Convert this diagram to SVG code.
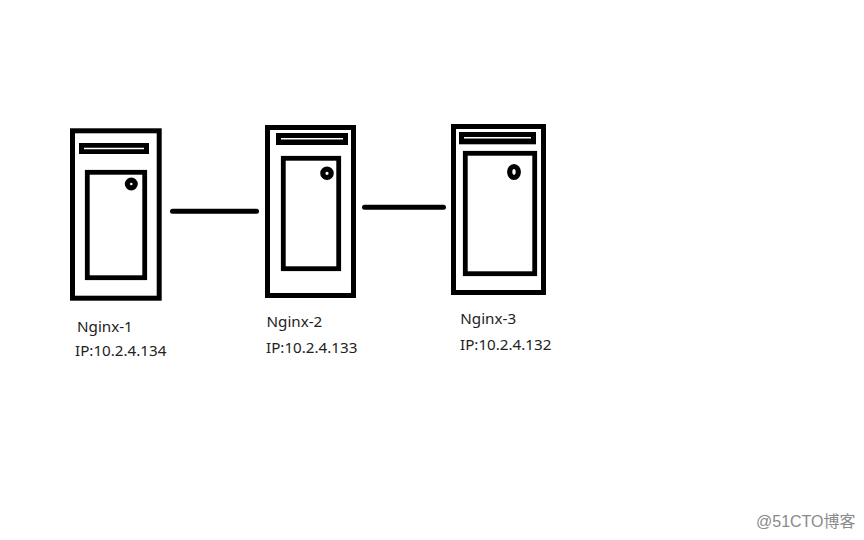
<svg xmlns="http://www.w3.org/2000/svg" width="864" height="540" viewBox="0 0 864 540">
<style>
.o{fill:#fff;stroke:#000;stroke-width:5}
.s{fill:#000}
.w{stroke:#fff;stroke-width:1.4}
.i{fill:#fff;stroke:#000;stroke-width:4.8}
.k{fill:#fff;stroke:#000;stroke-width:5.2}
.c{stroke:#000;stroke-width:5;stroke-linecap:round;fill:none}
text{font-family:"Noto Sans","Open Sans","Liberation Sans",sans-serif;font-size:15.2px;fill:#222}
.m{font-family:"Liberation Sans","Noto Sans CJK SC",sans-serif;font-size:16px;fill:#8a8a8a}
</style>
<rect width="864" height="540" fill="#fff"/>
<g id="connectors">
<line class="c" x1="172.500" y1="211.300" x2="256.500" y2="211.300"/>
<line class="c" x1="364.500" y1="207.300" x2="443.500" y2="207.300"/>
</g>
<g id="nginx-1">
<rect class="o" x="72.500" y="130.800" width="86.700" height="167.400"/>
<rect class="s" x="79" y="143" width="70" height="11"/>
<line class="w" x1="84" y1="148.500" x2="144" y2="148.500"/>
<rect class="i" x="87.300" y="172.300" width="57.400" height="105.400"/>
<circle class="k" cx="131.300" cy="184" r="3.900"/>
<text x="77" y="332">Nginx-1</text>
<text x="75" y="355.700">IP:10.2.4.134</text>
</g>
<g id="nginx-2">
<rect class="o" x="267.500" y="127.500" width="86" height="168"/>
<rect class="s" x="276" y="133" width="72" height="12"/>
<line class="w" x1="281" y1="138.700" x2="343" y2="138.700"/>
<rect class="i" x="283.300" y="158.300" width="55.400" height="110.400"/>
<circle class="k" cx="327" cy="173.300" r="4.200"/>
<text x="266.500" y="326.700">Nginx-2</text>
<text x="266" y="352.700">IP:10.2.4.133</text>
</g>
<g id="nginx-3">
<rect class="o" x="453.500" y="126.500" width="90" height="166"/>
<rect class="s" x="459" y="132" width="77" height="12.300"/>
<line class="w" x1="464" y1="137.700" x2="531" y2="137.700"/>
<rect class="i" x="465.300" y="153.300" width="69.400" height="120.400"/>
<ellipse class="k" cx="514" cy="172" rx="4.300" ry="5.500"/>
<text x="460.300" y="323.700">Nginx-3</text>
<text x="460" y="350">IP:10.2.4.132</text>
</g>
<text class="m" x="756" y="527">@51CTO博客</text>
</svg>
